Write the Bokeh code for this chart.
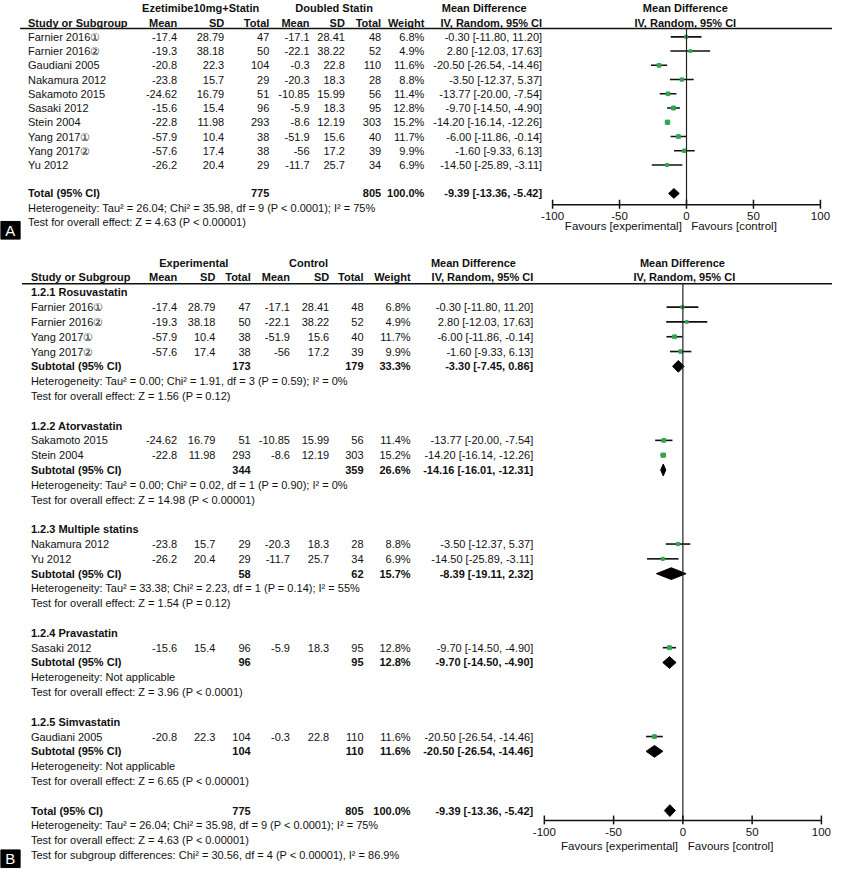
from collections import defaultdict
from bokeh.plotting import figure
from bokeh.models import Range1d
from bokeh.embed import file_html
from bokeh.resources import INLINE
from bokeh.core.properties import value

# ---------------- data ----------------
studies = ["Farnier 2016①", "Farnier 2016②", "Gaudiani 2005", "Nakamura 2012", "Sakamoto 2015",
           "Sasaki 2012", "Stein 2004", "Yang 2017①", "Yang 2017②", "Yu 2012"]
exp_mean = [-17.4, -19.3, -20.8, -23.8, -24.62, -15.6, -22.8, -57.9, -57.6, -26.2]
exp_sd = [28.79, 38.18, 22.3, 15.7, 16.79, 15.4, 11.98, 10.4, 17.4, 20.4]
exp_n = [47, 50, 104, 29, 51, 96, 293, 38, 38, 29]
ctl_mean = [-17.1, -22.1, -0.3, -20.3, -10.85, -5.9, -8.6, -51.9, -56, -11.7]
ctl_sd = [28.41, 38.22, 22.8, 18.3, 15.99, 18.3, 12.19, 15.6, 17.2, 25.7]
ctl_n = [48, 52, 110, 28, 56, 95, 303, 40, 39, 34]
weight = [6.8, 4.9, 11.6, 8.8, 11.4, 12.8, 15.2, 11.7, 9.9, 6.9]
md = [-0.30, 2.80, -20.50, -3.50, -13.77, -9.70, -14.20, -6.00, -1.60, -14.50]
md_lo = [-11.80, -12.03, -26.54, -12.37, -20.00, -14.50, -16.14, -11.86, -9.33, -25.89]
md_hi = [11.20, 17.63, -14.46, 5.37, -7.54, -4.90, -12.26, -0.14, 6.13, -3.11]

total_exp_n = 775
total_ctl_n = 805
total_weight = 100.0
total_md, total_lo, total_hi = -9.39, -13.36, -5.42
total_het = "Heterogeneity: Tau² = 26.04; Chi² = 35.98, df = 9 (P < 0.0001); I² = 75%"
total_test = "Test for overall effect: Z = 4.63 (P < 0.00001)"
subgroup_test = "Test for subgroup differences: Chi² = 30.56, df = 4 (P < 0.00001), I² = 86.9%"

groups = ["1.2.1 Rosuvastatin", "1.2.2 Atorvastatin", "1.2.3 Multiple statins",
          "1.2.4 Pravastatin", "1.2.5 Simvastatin"]
group_members = [["Farnier 2016①", "Farnier 2016②", "Yang 2017①", "Yang 2017②"],
                 ["Sakamoto 2015", "Stein 2004"],
                 ["Nakamura 2012", "Yu 2012"],
                 ["Sasaki 2012"],
                 ["Gaudiani 2005"]]
sub_exp_n = [173, 344, 58, 96, 104]
sub_ctl_n = [179, 359, 62, 95, 110]
sub_weight = [33.3, 26.6, 15.7, 12.8, 11.6]
sub_md = [-3.30, -14.16, -8.39, -9.70, -20.50]
sub_lo = [-7.45, -16.01, -19.11, -14.50, -26.54]
sub_hi = [0.86, -12.31, 2.32, -4.90, -14.46]
sub_het = ["Heterogeneity: Tau² = 0.00; Chi² = 1.91, df = 3 (P = 0.59); I² = 0%",
           "Heterogeneity: Tau² = 0.00; Chi² = 0.02, df = 1 (P = 0.90); I² = 0%",
           "Heterogeneity: Tau² = 33.38; Chi² = 2.23, df = 1 (P = 0.14); I² = 55%",
           "Heterogeneity: Not applicable",
           "Heterogeneity: Not applicable"]
sub_test = ["Test for overall effect: Z = 1.56 (P = 0.12)",
            "Test for overall effect: Z = 14.98 (P < 0.00001)",
            "Test for overall effect: Z = 1.54 (P = 0.12)",
            "Test for overall effect: Z = 3.96 (P < 0.0001)",
            "Test for overall effect: Z = 6.65 (P < 0.00001)"]

axis_ticks = [-100, -50, 0, 50, 100]
axis_labels = ["-100", "-50", "0", "50", "100"]

# ---------------- layout ----------------
FONT = "Liberation Sans"
W, H = 832, 871
X0, X1 = 0, 848
p = figure(width=W, height=H, x_range=Range1d(X0, X1), y_range=Range1d(887, 0),
           output_backend="svg", toolbar_location=None, min_border=0,
           x_axis_type=None, y_axis_type=None, outline_line_color=None)
p.grid.visible = False


def md_range(px_m100, px_p100):
    k = (px_p100 - px_m100) / 200.0
    return Range1d(-100 - (px_m100 - X0) / k, 100 + (X1 - px_p100) / k)


p.extra_x_ranges = {"mdA": md_range(562.7, 835.7), "mdB": md_range(554.3, 836.7)}

items = defaultdict(lambda: {"x": [], "y": [], "t": []})


def T(x, y, s, align="left", bold=False, size=11, color="#111111"):
    d = items[(align, bold, size, color)]
    d["x"].append(x)
    d["y"].append(y)
    d["t"].append(s)


def fmt(v):
    return f"{v:g}"


def ci(m, lo, hi):
    return f"{m:.2f} [{lo:.2f}, {hi:.2f}]"


GREEN = "#2fa84f"


def forest_row(rng, y, m, lo, hi, w):
    p.segment(x0=[lo], x1=[hi], y0=[y], y1=[y], x_range_name=rng,
              line_color="#111111", line_width=1.6)
    p.scatter(x=[m], y=[y], size=2.0 + w * 0.15, marker="square", x_range_name=rng,
              fill_color=GREEN, line_color=GREEN)


def diamond(rng, y, m, lo, hi, h):
    p.patches(xs=[[lo, m, hi, m]], ys=[[y, y - h, y, y + h]], x_range_name=rng,
              fill_color="black", line_color="black")


def axis(rng, ytop, yax, ylab, yfav):
    p.segment(x0=[0], x1=[0], y0=[ytop], y1=[yax], x_range_name=rng,
              line_color="#222222", line_width=1.2)
    p.segment(x0=[axis_ticks[0]], x1=[axis_ticks[-1]], y0=[yax], y1=[yax],
              x_range_name=rng, line_color="#111111", line_width=1.5)
    p.segment(x0=axis_ticks, x1=axis_ticks, y0=[yax - 5] * 5, y1=[yax + 4] * 5,
              x_range_name=rng, line_color="#111111", line_width=1.5)
    p.text(x=axis_ticks, y=[ylab] * 5, text=axis_labels, x_range_name=rng,
           text_align="center", text_baseline="middle", text_font=value(FONT),
           text_font_size="11.5px", text_color="#111111")
    p.text(x=[-3.5], y=[yfav], text=["Favours [experimental]"], x_range_name=rng,
           text_align="right", text_baseline="middle", text_font=value(FONT),
           text_font_size="11.5px", text_color="#111111")
    p.text(x=[3.5], y=[yfav], text=["Favours [control]"], x_range_name=rng,
           text_align="left", text_baseline="middle", text_font=value(FONT),
           text_font_size="11.5px", text_color="#111111")


# ---------- Panel A ----------
def yA(n):
    return 8 + (n - 1) * 14.5


colA = [180, 228, 274, 315, 351, 388, 432, 552]
T(204, yA(1), "Ezetimibe10mg+Statin", "center", True)
T(340, yA(1), "Doubled Statin", "center", True)
T(493, yA(1), "Mean Difference", "center", True)
T(698, yA(1), "Mean Difference", "center", True)
T(28, yA(2), "Study or Subgroup", "left", True)
for x, s in zip(colA, ["Mean", "SD", "Total", "Mean", "SD", "Total", "Weight", "IV, Random, 95% CI"]):
    T(x, yA(2), s, "right", True)
T(698, yA(2), "IV, Random, 95% CI", "center", True)
p.segment(x0=[20], x1=[848], y0=[yA(2) + 6], y1=[yA(2) + 6], line_color="#111111", line_width=1.5)

for i, name in enumerate(studies):
    y = yA(3 + i)
    T(28, y, name)
    vals = [fmt(exp_mean[i]), fmt(exp_sd[i]), str(exp_n[i]), fmt(ctl_mean[i]), fmt(ctl_sd[i]),
            str(ctl_n[i]), f"{weight[i]:.1f}%", ci(md[i], md_lo[i], md_hi[i])]
    for x, s in zip(colA, vals):
        T(x, y, s, "right")
    forest_row("mdA", y, md[i], md_lo[i], md_hi[i], weight[i])

yT = yA(14)
T(28, yT, "Total (95% CI)", "left", True)
T(colA[2], yT, str(total_exp_n), "right", True)
T(colA[5], yT, str(total_ctl_n), "right", True)
T(colA[6], yT, f"{total_weight:.1f}%", "right", True)
T(colA[7], yT, ci(total_md, total_lo, total_hi), "right", True)
diamond("mdA", yT, total_md, total_lo, total_hi, 5)
T(28, yA(15), total_het)
T(28, yA(16), total_test)
axis("mdA", yA(2) + 6, 208, 219, 230)
p.quad(left=[0], right=[20], top=[225], bottom=[243], fill_color="black", line_color="black")
T(10, 234.5, "A", "center", False, 15, "white")

# ---------- Panel B ----------
def yB(n):
    return 267 + (n - 1) * 15.08


colB = [180, 219, 255, 295, 335, 370, 418, 543]
T(197, yB(1), "Experimental", "center", True)
T(314, yB(1), "Control", "center", True)
T(482, yB(1), "Mean Difference", "center", True)
T(695, yB(1), "Mean Difference", "center", True)
T(31, yB(2), "Study or Subgroup", "left", True)
for x, s in zip(colB, ["Mean", "SD", "Total", "Mean", "SD", "Total", "Weight", "IV, Random, 95% CI"]):
    T(x, yB(2), s, "right", True)
T(697, yB(2), "IV, Random, 95% CI", "center", True)
p.segment(x0=[22], x1=[848], y0=[yB(2) + 6.5], y1=[yB(2) + 6.5], line_color="#111111", line_width=1.5)

n = 3
for g, members in enumerate(group_members):
    T(31, yB(n), groups[g], "left", True)
    n += 1
    for name in members:
        i = studies.index(name)
        y = yB(n)
        T(31, y, name)
        vals = [fmt(exp_mean[i]), fmt(exp_sd[i]), str(exp_n[i]), fmt(ctl_mean[i]), fmt(ctl_sd[i]),
                str(ctl_n[i]), f"{weight[i]:.1f}%", ci(md[i], md_lo[i], md_hi[i])]
        for x, s in zip(colB, vals):
            T(x, y, s, "right")
        forest_row("mdB", y, md[i], md_lo[i], md_hi[i], weight[i])
        n += 1
    y = yB(n)
    T(31, y, "Subtotal (95% CI)", "left", True)
    T(colB[2], y, str(sub_exp_n[g]), "right", True)
    T(colB[5], y, str(sub_ctl_n[g]), "right", True)
    T(colB[6], y, f"{sub_weight[g]:.1f}%", "right", True)
    T(colB[7], y, ci(sub_md[g], sub_lo[g], sub_hi[g]), "right", True)
    diamond("mdB", y, sub_md[g], sub_lo[g], sub_hi[g], 6)
    n += 1
    T(31, yB(n), sub_het[g])
    n += 1
    T(31, yB(n), sub_test[g])
    n += 2

y = yB(n)
T(31, y, "Total (95% CI)", "left", True)
T(colB[2], y, str(total_exp_n), "right", True)
T(colB[5], y, str(total_ctl_n), "right", True)
T(colB[6], y, f"{total_weight:.1f}%", "right", True)
T(colB[7], y, ci(total_md, total_lo, total_hi), "right", True)
diamond("mdB", y, total_md, total_lo, total_hi, 6)
T(31, yB(n + 1), total_het)
T(31, yB(n + 2), total_test)
T(31, yB(n + 3), subgroup_test)
axis("mdB", yB(2) + 6.5, 835, 847, 861)
p.quad(left=[0], right=[20], top=[865], bottom=[883], fill_color="black", line_color="black")
T(10, 874, "B", "center", False, 15, "white")

for (align, bold, size, color), d in items.items():
    p.text(x=d["x"], y=d["y"], text=d["t"], text_align=align, text_baseline="middle",
           text_font=value(FONT), text_font_size=f"{size}px",
           text_font_style="bold" if bold else "normal", text_color=color)

open("out.html", "w").write(file_html(p, INLINE))
